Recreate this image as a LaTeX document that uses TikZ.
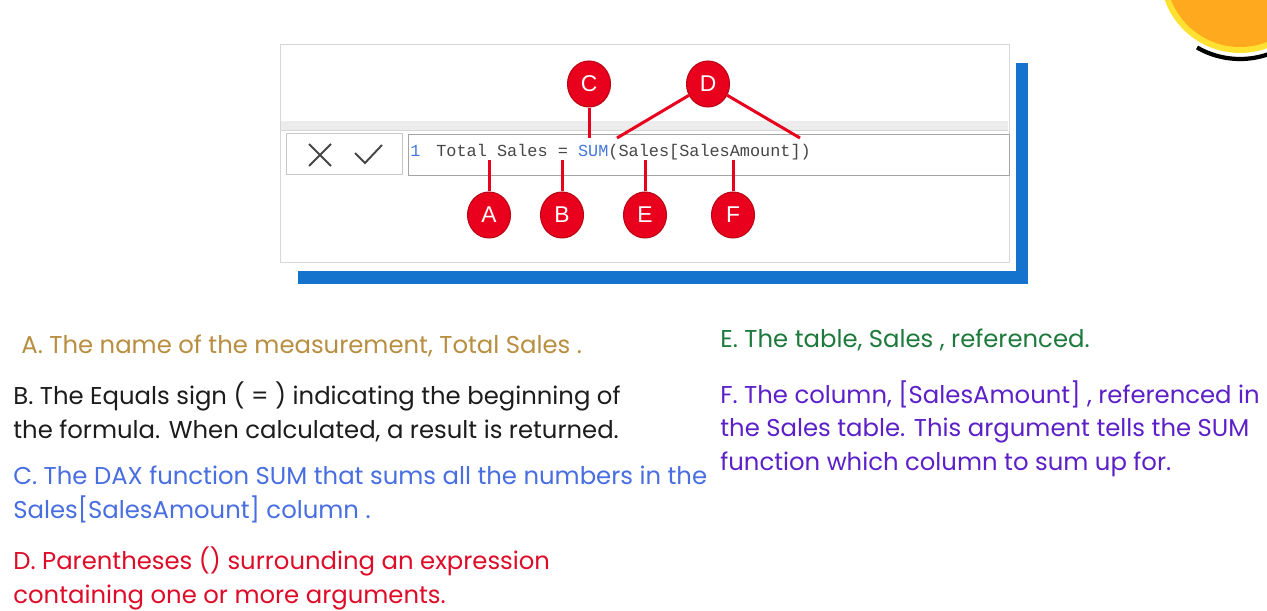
\documentclass[tikz,border=0pt]{standalone}
\usepackage{fontspec}
\setmainfont{Poppins}
\newfontfamily\codefont{Liberation Mono}
\newfontfamily\tagfont{Liberation Sans}
\usetikzlibrary{shapes.geometric}

\definecolor{frameblue}{RGB}{20,115,205}
\definecolor{tagred}{RGB}{232,0,28}
\definecolor{tagedge}{RGB}{185,0,20}
\definecolor{sumblue}{RGB}{70,120,215}
\definecolor{codegray}{RGB}{70,70,70}
\definecolor{panelgray}{RGB}{215,215,215}
\definecolor{bandgray}{RGB}{236,236,236}
\definecolor{boxgray}{RGB}{200,200,200}
\definecolor{codebox}{RGB}{165,165,165}
\definecolor{colA}{RGB}{184,142,64}
\definecolor{colB}{RGB}{28,28,28}
\definecolor{colC}{RGB}{72,110,225}
\definecolor{colD}{RGB}{222,12,40}
\definecolor{colE}{RGB}{30,122,60}
\definecolor{colF}{RGB}{92,32,200}
\definecolor{sunorange}{RGB}{255,170,30}
\definecolor{sunyellow}{RGB}{255,225,50}

\begin{document}
\begin{tikzpicture}[x=0.02cm, y=-0.02cm,
    tag/.style={ellipse, fill=tagred, draw=tagedge, line width=0.6pt,
        minimum width=0.86cm, minimum height=0.92cm, inner sep=0pt,
        text=white, font=\tagfont\fontsize{13}{13}\selectfont},
    pointer/.style={draw=tagred, line width=1.7pt},
    note/.style={anchor=base west, inner sep=0pt, align=left,
        font=\fontsize{13.85}{19}\selectfont},
    icon/.style={draw=codegray, line width=1.1pt}]
    % --- page ---
    \useasboundingbox (0,0) rectangle (1267,611);
    \fill[white] (0,0) rectangle (1267,611);

    % --- sun in the corner ---
    \begin{scope}
        \clip (0,0) rectangle (1267,611);
        \fill[sunyellow] (1240,-27) circle (80);
        \fill[sunorange] (1240,-27) circle (74);
        \draw[line width=2.4pt] (1240,-27) ++(120:86) arc (120:50:86);
    \end{scope}

    % --- panel with blue frame ---
    \fill[frameblue] (1016,63) rectangle (1028,284);
    \fill[frameblue] (298,271) rectangle (1028,284);
    \draw[panelgray, fill=white] (280,44) rectangle (1009,262);
    \fill[bandgray] (281,121) rectangle (1008,130);
    \draw[panelgray] (281,130) -- (1008,130);

    % --- formula bar ---
    \draw[boxgray, fill=white] (286,133) rectangle (402,174);
    \draw[codebox, fill=white] (408,134) rectangle (1009,175);
    \draw[icon] (309,144) -- (331,166) (309,166) -- (331,144);
    \draw[icon] (355,153) -- (365,163) -- (382,145);
    \node[anchor=base west, inner sep=0pt, text=sumblue,
        font=\codefont\fontsize{9.6}{10}\selectfont] (lineno) at (410,157) {1};
    \node[anchor=base west, inner sep=0pt, text=codegray,
        font=\codefont\fontsize{9.6}{10}\selectfont] (code) at (436,157)
        {Total Sales = \textcolor{sumblue}{SUM}(Sales[SalesAmount])};

    % --- tags ---
    \node[tag] (C) at (589,84) {C};
    \node[tag] (D) at (708,84) {D};
    \node[tag] (A) at (489,215) {A};
    \node[tag] (B) at (562,215) {B};
    \node[tag] (E) at (645,215) {E};
    \node[tag] (F) at (733,215) {F};

    \coordinate (c-pt) at (589,138);
    \coordinate (d-left) at (617,138);
    \coordinate (d-right) at (800,138);
    \coordinate (a-pt) at (489,160);
    \coordinate (b-pt) at (562,160);
    \coordinate (e-pt) at (645,160);
    \coordinate (f-pt) at (733,160);

    \draw[pointer] (C) -- (c-pt);
    \draw[pointer] (D) -- (d-left);
    \draw[pointer] (D) -- (d-right);
    \draw[pointer] (A) -- (a-pt);
    \draw[pointer] (B) -- (b-pt);
    \draw[pointer] (E) -- (e-pt);
    \draw[pointer] (F) -- (f-pt);

    % --- notes (anchored on the baseline of their last line) ---
    \node[note, text=colA] (noteA) at (21,353)
        {A. The name of the measurement, Total Sales .};
    \node[note, text=colB] (noteB) at (13,438)
        {B. The Equals sign ( = ) indicating the beginning of\\the formula. When calculated, a result is returned.};
    \node[note, text=colC] (noteC) at (13,518)
        {C. The DAX function SUM that sums all the numbers in the\\Sales[SalesAmount] column .};
    \node[note, text=colD] (noteD) at (13,603)
        {D. Parentheses () surrounding an expression\\containing one or more arguments.};
    \node[note, text=colE] (noteE) at (720,347)
        {E. The table, Sales , referenced.};
    \node[note, text=colF] (noteF) at (720,470)
        {F. The column, [SalesAmount] , referenced in\\the Sales table. This argument tells the SUM\\function which column to sum up for.};
\end{tikzpicture}
\end{document}
